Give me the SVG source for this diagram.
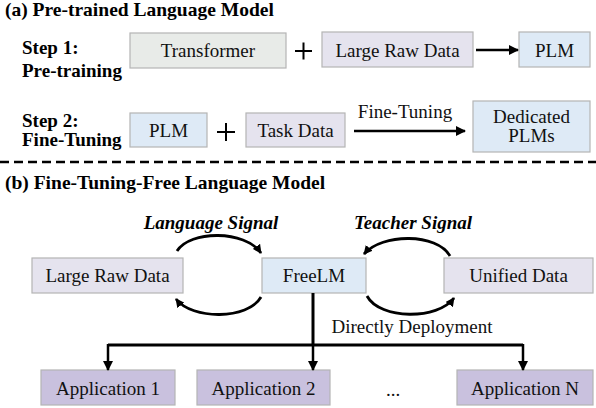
<svg xmlns="http://www.w3.org/2000/svg" width="596" height="408" viewBox="0 0 596 408">
<defs>
<marker id="ah" viewBox="0 0 10 10" refX="9" refY="5" markerWidth="4" markerHeight="4" orient="auto" markerUnits="strokeWidth">
<path d="M0,0 L10,5 L0,10 z" fill="#000"/>
</marker>
<marker id="ah2" viewBox="0 0 10 10" refX="9" refY="5" markerWidth="3.2" markerHeight="3.2" orient="auto" markerUnits="strokeWidth">
<path d="M0,0 L10,5 L0,10 z" fill="#000"/>
</marker>
<style>
.lbl{font-size:19px;fill:#111;text-anchor:middle}
.head{font-size:19.5px;font-weight:bold;fill:#000}
.step{font-size:19px;font-weight:bold;fill:#000}
.sig{font-size:19px;font-weight:bold;font-style:italic;fill:#000;text-anchor:middle}
.box{stroke:#b4b4b4;stroke-width:1.2}
.gray{fill:#e8ebe8}
.lav{fill:#e5e3ee}
.blue{fill:#deeaf6}
.app{fill:#c9c1de}
.ln{fill:none;stroke:#000;stroke-width:2.5}
.arc{fill:none;stroke:#000;stroke-width:2.8}
</style>
</defs>
<text class="head" font-family="Liberation Serif" style="font-family:'Liberation Serif',serif" x="5" y="16">(a) Pre-trained Language Model</text>
<text class="step" font-family="Liberation Serif" style="font-family:'Liberation Serif',serif" x="22" y="54">Step 1:</text>
<text class="step" font-family="Liberation Serif" style="font-family:'Liberation Serif',serif" x="22" y="77">Pre-training</text>
<text class="step" font-family="Liberation Serif" style="font-family:'Liberation Serif',serif" x="22" y="127">Step 2:</text>
<text class="step" font-family="Liberation Serif" style="font-family:'Liberation Serif',serif" x="22" y="146">Fine-Tuning</text>
<g id="transformer"><rect class="box gray" x="130" y="33" width="156" height="35"/><text class="lbl" font-family="Liberation Serif" style="font-family:'Liberation Serif',serif" x="208" y="57">Transformer</text></g>
<g id="plus1"><path d="M295,51 H312 M303.5,42.5 V59.5" stroke="#000" stroke-width="2" fill="none"/></g>
<g id="rawdata1"><rect class="box lav" x="322" y="32" width="151" height="35"/><text class="lbl" font-family="Liberation Serif" style="font-family:'Liberation Serif',serif" x="397.5" y="57">Large Raw Data</text></g>
<g id="plm1"><rect class="box blue" x="519" y="32" width="71" height="35"/><text class="lbl" font-family="Liberation Serif" style="font-family:'Liberation Serif',serif" x="554.5" y="57">PLM</text></g>
<g id="plm2"><rect class="box blue" x="130" y="113" width="77" height="34"/><text class="lbl" font-family="Liberation Serif" style="font-family:'Liberation Serif',serif" x="168.5" y="137">PLM</text></g>
<g id="plus2"><path d="M217,132 H235 M226,123 V141" stroke="#000" stroke-width="2" fill="none"/></g>
<g id="taskdata"><rect class="box lav" x="246" y="113" width="99" height="34"/><text class="lbl" font-family="Liberation Serif" style="font-family:'Liberation Serif',serif" x="295.5" y="137">Task Data</text></g>
<g id="dedicated"><rect class="box blue" x="473" y="101" width="117" height="51"/><text class="lbl" font-family="Liberation Serif" style="font-family:'Liberation Serif',serif" x="531.5" y="123">Dedicated</text><text class="lbl" font-family="Liberation Serif" style="font-family:'Liberation Serif',serif" x="531.5" y="142">PLMs</text></g>
<text class="lbl" font-family="Liberation Serif" style="font-family:'Liberation Serif',serif" x="405" y="118">Fine-Tuning</text>
<line x1="0" y1="162" x2="596" y2="162" stroke="#000" stroke-width="2.5" stroke-dasharray="9,5"/>
<text class="head" font-family="Liberation Serif" style="font-family:'Liberation Serif',serif" x="5" y="189">(b) Fine-Tuning-Free Language Model</text>
<text class="sig" font-family="Liberation Serif" style="font-family:'Liberation Serif',serif" x="211" y="229">Language Signal</text>
<text class="sig" font-family="Liberation Serif" style="font-family:'Liberation Serif',serif" x="413" y="229">Teacher Signal</text>
<g id="rawdata2"><rect class="box lav" x="32" y="258" width="151" height="35"/><text class="lbl" font-family="Liberation Serif" style="font-family:'Liberation Serif',serif" x="107.5" y="282">Large Raw Data</text></g>
<g id="freelm"><rect class="box blue" x="262" y="258" width="104" height="35"/><text class="lbl" font-family="Liberation Serif" style="font-family:'Liberation Serif',serif" x="314" y="282">FreeLM</text></g>
<g id="unified"><rect class="box lav" x="444" y="258" width="149" height="35"/><text class="lbl" font-family="Liberation Serif" style="font-family:'Liberation Serif',serif" x="518.5" y="282">Unified Data</text></g>
<text class="lbl" font-family="Liberation Serif" style="font-family:'Liberation Serif',serif" x="412" y="333">Directly Deployment</text>
<g id="app1"><rect class="box app" x="41" y="370" width="134" height="35"/><text class="lbl" font-family="Liberation Serif" style="font-family:'Liberation Serif',serif" x="108" y="395">Application 1</text></g>
<g id="app2"><rect class="box app" x="197" y="370" width="133" height="35"/><text class="lbl" font-family="Liberation Serif" style="font-family:'Liberation Serif',serif" x="263.5" y="395">Application 2</text></g>
<text class="lbl" font-family="Liberation Serif" style="font-family:'Liberation Serif',serif" x="393" y="396">...</text>
<g id="appN"><rect class="box app" x="457" y="370" width="136" height="35"/><text class="lbl" font-family="Liberation Serif" style="font-family:'Liberation Serif',serif" x="525" y="395">Application N</text></g>
<g id="connectors">
<line class="ln" x1="476" y1="50" x2="518" y2="50" marker-end="url(#ah)"/>
<line class="ln" x1="354" y1="131" x2="465" y2="131" marker-end="url(#ah)"/>
<path class="arc" d="M177,251 C190,230 245,230 261,253" marker-end="url(#ah2)"/>
<path class="arc" d="M450,256 C437,233 382,233 364,254" marker-end="url(#ah2)"/>
<path class="arc" d="M261,297 C248,320 192,320 176,299" marker-end="url(#ah2)"/>
<path class="arc" d="M367,296 C380,320 438,320 454,298" marker-end="url(#ah2)"/>
<polyline class="ln" points="313,293 313,345" style="stroke-width:3"/>
<polyline class="ln" points="108,345 523,345" style="stroke-width:3"/>
<line class="ln" x1="108" y1="344" x2="108" y2="370" marker-end="url(#ah)"/>
<line class="ln" x1="313" y1="344" x2="313" y2="370" marker-end="url(#ah)"/>
<line class="ln" x1="523" y1="344" x2="523" y2="370" marker-end="url(#ah)"/>
</g>
</svg>
